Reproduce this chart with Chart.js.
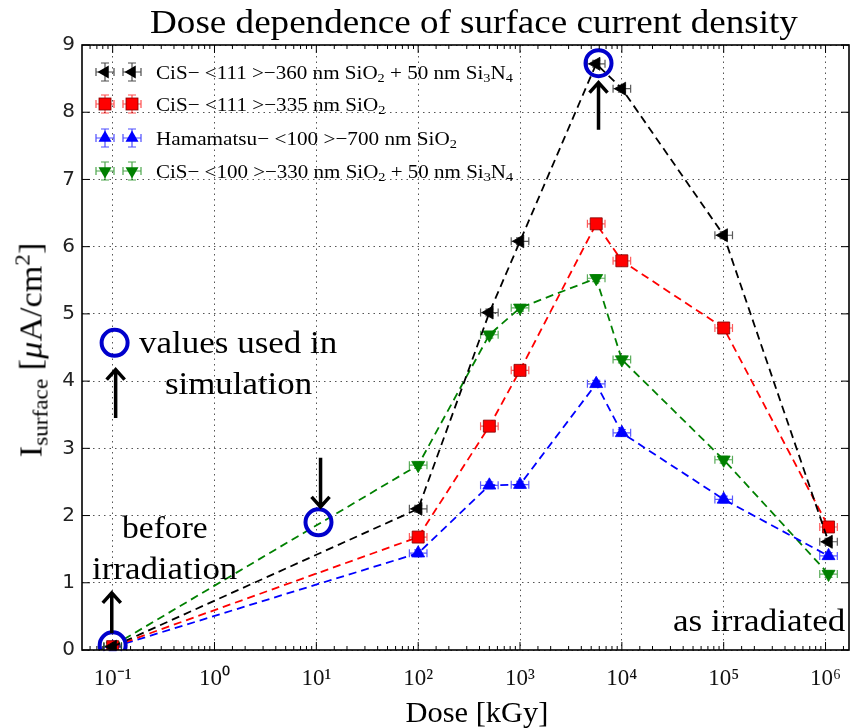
<!DOCTYPE html>
<html lang="en">
<head>
<meta charset="UTF-8">
<title>Dose dependence of surface current density</title>
<style>
  body { margin: 0; background: #fff; }
  .wrap { position: relative; width: 866px; height: 728px; font-family: "Liberation Serif", "DejaVu Serif", serif; color: #000; }
  canvas { position: absolute; left: 0; top: 0; }
  .txt { position: absolute; white-space: nowrap; line-height: 1; }
  .c { transform-origin: 50% 50%; }
  .l { transform-origin: 0 50%; }
  sub, sup { font-size: 0.68em; line-height: 0; }
  sub { vertical-align: -0.28em; }
  sup { vertical-align: 0.55em; }
  .legend { position: absolute; left: 0; top: 0; }
  .row { position: absolute; left: 92px; height: 24px; }
  .row svg { position: absolute; left: 0; top: 0; }
  .row span { position: absolute; left: 64px; top: 50%; font-size: 19px; }
</style>
</head>
<body>
<div class="wrap" id="wrap">
  <canvas id="chart1" width="866" height="728"></canvas>

  <div class="txt c" id="titulo" style="left:474px; top:22px; font-size:34px;" data-w="648">Dose dependence of surface current density</div>
  <div class="txt c" style="left:477px; top:712px; font-size:30px;" data-w="143">Dose [kGy]</div>
  <div class="txt c" style="left:31px; top:350px; font-size:31px;" data-w="215" data-rot="1">I<sub>surface</sub> [<i>μ</i>A/cm<sup>2</sup>]</div>

  <div class="txt l" style="left:139px; top:342px; font-size:32px;" data-w="198">values used in</div>
  <div class="txt l" style="left:165px; top:383px; font-size:32px;" data-w="147">simulation</div>
  <div class="txt l" style="left:122px; top:527px; font-size:32px;" data-w="86">before</div>
  <div class="txt l" style="left:92px; top:568px; font-size:32px;" data-w="145">irradiation</div>
  <div class="txt l" style="left:673px; top:620px; font-size:32px;" data-w="172">as irradiated</div>

  <div class="legend" id="legenda"></div>
</div>

<script src="https://cdn.jsdelivr.net/npm/chart.js"></script>
<script>
    // dados
    var dose = [0.1, 100, 500, 1000, 5600, 10000, 100000, 1070000];
    var cisNitreto111 = [0.05, 2.10, 5.02, 6.08, 8.72, 8.35, 6.17, 1.61];
    var cisOxido111 = [0.05, 1.68, 3.33, 4.16, 6.34, 5.79, 4.79, 1.83];
    var hamamatsu100 = [0.04, 1.44, 2.45, 2.46, 3.96, 3.23, 2.24, 1.40];
    var cisNitreto100 = [0.06, 2.75, 4.69, 5.09, 5.53, 4.32, 2.83, 1.13];

    var nomes = [
        "CiS− &lt;111 &gt;−360 nm SiO<sub>2</sub> + 50 nm Si<sub>3</sub>N<sub>4</sub>",
        "CiS− &lt;111 &gt;−335 nm SiO<sub>2</sub>",
        "Hamamatsu− &lt;100 &gt;−700 nm SiO<sub>2</sub>",
        "CiS− &lt;100 &gt;−330 nm SiO<sub>2</sub> + 50 nm Si<sub>3</sub>N<sub>4</sub>"
    ];
    var larguraLegenda = [357, 229, 301, 357];

    // circulos e setas das anotacoes (coordenadas de dados)
    var circuloX = [0.1, 10.5, 5900, 0.1045];
    var circuloY = [0.07, 1.90, 8.73, 4.57];
    var setaX = [0.098, 11.0, 5900, 0.107];
    var setaDe = [0.25, 2.86, 7.74, 3.45];
    var setaAte = [0.85, 2.13, 8.44, 4.17];

    var erroX = 1.22;
    var erroY = 0.05;

    var cores = ["#000000", "#ff0000", "#0000ff", "#008000"];
    var formas = ["triangle", "rect", "triangle", "triangle"];
    var rotacoes = [-90, 0, 0, 180];
    var valores = [cisNitreto111, cisOxido111, hamamatsu100, cisNitreto100];

    function pontos(ys) {
        return ys.map(function (y, i) { return { x: dose[i], y: y } });
    }

    function ehPotencia(v) {
        var l = Math.log10(v);
        return Math.abs(l - Math.round(l)) < 1e-9;
    }

    var sobrescrito = { "-": "⁻", "0": "⁰", "1": "¹", "2": "²", "3": "³", "4": "⁴", "5": "⁵", "6": "⁶", "7": "⁷", "8": "⁸", "9": "⁹" };
    function rotuloLog(v) {
        if (!ehPotencia(v)) return "";
        var e = String(Math.round(Math.log10(v)));
        return "10" + e.split("").map(function (c) { return sobrescrito[c] }).join("");
    }

    var datasets = [{
        label: "circulos",
        data: circuloX.map(function (x, i) { return { x: x, y: circuloY[i] } }),
        showLine: false,
        pointStyle: "circle",
        pointRadius: 13,
        pointBorderWidth: 4,
        pointBorderColor: "#0000cc",
        pointBackgroundColor: "rgba(0,0,0,0)",
        order: 0
    }];
    for (var k = 0; k < valores.length; k++) {
        datasets.push({
            label: "serie" + k,
            data: pontos(valores[k]),
            showLine: true,
            borderColor: cores[k],
            borderWidth: 1.8,
            borderDash: [8, 5],
            pointStyle: formas[k],
            pointRotation: rotacoes[k],
            pointRadius: formas[k] == "rect" ? 8.5 : 7.5,
            pointBackgroundColor: cores[k],
            pointBorderColor: k == 1 ? "#800000" : cores[k],
            pointBorderWidth: 0.8,
            erro: true,
            order: k + 1
        });
    }

    var barrasErro = {
        id: "barrasErro",
        beforeDatasetsDraw: function (chart) {
            var c = chart.ctx, sx = chart.scales.x, sy = chart.scales.y;
            chart.data.datasets.forEach(function (ds) {
                if (!ds.erro) return;
                c.save();
                c.strokeStyle = ds.borderColor;
                c.globalAlpha = 0.65;
                c.lineWidth = 1.2;
                ds.data.forEach(function (p) {
                    var x1 = sx.getPixelForValue(p.x / erroX), x2 = sx.getPixelForValue(p.x * erroX);
                    var y = sy.getPixelForValue(p.y), xm = sx.getPixelForValue(p.x);
                    var y1 = sy.getPixelForValue(p.y - erroY), y2 = sy.getPixelForValue(p.y + erroY);
                    c.beginPath();
                    c.moveTo(x1, y); c.lineTo(x2, y);
                    c.moveTo(x1, y - 4); c.lineTo(x1, y + 4);
                    c.moveTo(x2, y - 4); c.lineTo(x2, y + 4);
                    c.moveTo(xm, y1); c.lineTo(xm, y2);
                    c.moveTo(xm - 4, y1); c.lineTo(xm + 4, y1);
                    c.moveTo(xm - 4, y2); c.lineTo(xm + 4, y2);
                    c.stroke();
                });
                c.restore();
            });
        }
    };

    var setas = {
        id: "setas",
        afterDatasetsDraw: function (chart) {
            var c = chart.ctx, sx = chart.scales.x, sy = chart.scales.y;
            c.save();
            c.strokeStyle = "#000";
            c.lineWidth = 3.5;
            c.lineCap = "butt";
            for (var i = 0; i < setaX.length; i++) {
                var x = sx.getPixelForValue(setaX[i]);
                var ya = sy.getPixelForValue(setaDe[i]);
                var yb = sy.getPixelForValue(setaAte[i]);
                var d = yb > ya ? -1 : 1;
                c.beginPath();
                c.moveTo(x, ya); c.lineTo(x, yb);
                c.moveTo(x - 9, yb + d * 10); c.lineTo(x, yb); c.lineTo(x + 9, yb + d * 10);
                c.stroke();
            }
            c.restore();
        }
    };

    var moldura = {
        id: "moldura",
        afterDraw: function (chart) {
            var c = chart.ctx, a = chart.chartArea, sx = chart.scales.x, sy = chart.scales.y;
            c.save();
            c.strokeStyle = "#000";
            c.lineWidth = 1;
            c.beginPath();
            sx.ticks.forEach(function (t) {
                var x = sx.getPixelForValue(t.value);
                if (x < a.left + 1 || x > a.right - 1) return;
                var len = ehPotencia(t.value) ? 8 : 4;
                c.moveTo(x, a.bottom); c.lineTo(x, a.bottom - len);
                c.moveTo(x, a.top); c.lineTo(x, a.top + len);
            });
            sy.ticks.forEach(function (t) {
                var y = sy.getPixelForValue(t.value);
                c.moveTo(a.left, y); c.lineTo(a.left + 8, y);
                c.moveTo(a.right, y); c.lineTo(a.right - 8, y);
            });
            c.stroke();
            c.lineWidth = 1.6;
            c.strokeRect(a.left, a.top, a.right - a.left, a.bottom - a.top);
            c.restore();
        }
    };

    var ctx = document.getElementById("chart1");
    var chart1 = new Chart(ctx, {
        type: "scatter",
        data: { datasets: datasets },
        options: {
            responsive: false,
            animation: false,
            layout: { padding: { left: 0, right: 3, top: 45, bottom: 0 } },
            plugins: { legend: { display: false }, tooltip: { enabled: false } },
            scales: {
                x: {
                    type: "logarithmic",
                    min: 0.05,
                    max: 1.7e6,
                    afterFit: function (s) { s.height = 78 },
                    grid: {
                        drawTicks: false,
                        color: function (c) { return c.tick && ehPotencia(c.tick.value) ? "#555" : "rgba(0,0,0,0)" },
                        lineWidth: 1
                    },
                    border: { display: false, dash: [1.5, 4] },
                    ticks: {
                        autoSkip: false,
                        maxRotation: 0,
                        padding: 15,
                        color: "#111",
                        font: { family: "Liberation Serif", size: 23 },
                        callback: function (v) { return rotuloLog(v) }
                    }
                },
                y: {
                    min: 0,
                    max: 9,
                    afterFit: function (s) { s.width = 82 },
                    grid: { drawTicks: false, color: "#555", lineWidth: 1 },
                    border: { display: false, dash: [1.5, 4] },
                    ticks: {
                        stepSize: 1,
                        padding: 7,
                        color: "#222",
                        font: { family: "DejaVu Sans", size: 20 }
                    }
                }
            }
        },
        plugins: [barrasErro, setas, moldura]
    });

    // legenda em html
    var linhasY = [72, 104, 138, 171];
    function marcador(k, cx) {
        var cor = cores[k], s = "";
        s += '<g stroke="' + cor + '" stroke-opacity="0.7" stroke-width="1.2" fill="none">';
        s += '<path d="M' + (cx - 9) + ' 12 H' + (cx + 9) + ' M' + (cx - 9) + ' 8 V16 M' + (cx + 9) + ' 8 V16 M' + cx + ' 3 V21 M' + (cx - 4) + ' 3 H' + (cx + 4) + ' M' + (cx - 4) + ' 21 H' + (cx + 4) + '"/></g>';
        if (formas[k] == "rect") {
            s += '<rect x="' + (cx - 6) + '" y="6" width="12" height="12" fill="' + cor + '" stroke="#800000" stroke-width="0.8"/>';
        } else {
            s += '<polygon points="0,-7.5 6.5,3.75 -6.5,3.75" fill="' + cor + '" transform="translate(' + cx + ',12) rotate(' + rotacoes[k] + ')"/>';
        }
        return s;
    }
    var legenda = document.getElementById("legenda");
    nomes.forEach(function (n, k) {
        var row = document.createElement("div");
        row.className = "row";
        row.style.top = (linhasY[k] - 12) + "px";
        row.innerHTML = '<svg width="56" height="24">' + marcador(k, 13) + marcador(k, 40) + '</svg>' +
            '<span class="txt l" data-w="' + larguraLegenda[k] + '">' + n + '</span>';
        legenda.appendChild(row);
    });

    // ajusta a largura dos textos
    document.querySelectorAll("[data-w]").forEach(function (el) {
        var s = Number(el.dataset.w) / el.offsetWidth;
        var t = el.classList.contains("c") ? "translate(-50%,-50%) " : "translateY(-50%) ";
        if (el.dataset.rot) t += "rotate(-90deg) ";
        el.style.transform = t + "scaleX(" + s.toFixed(3) + ")";
    });
</script>
</body>
</html>
